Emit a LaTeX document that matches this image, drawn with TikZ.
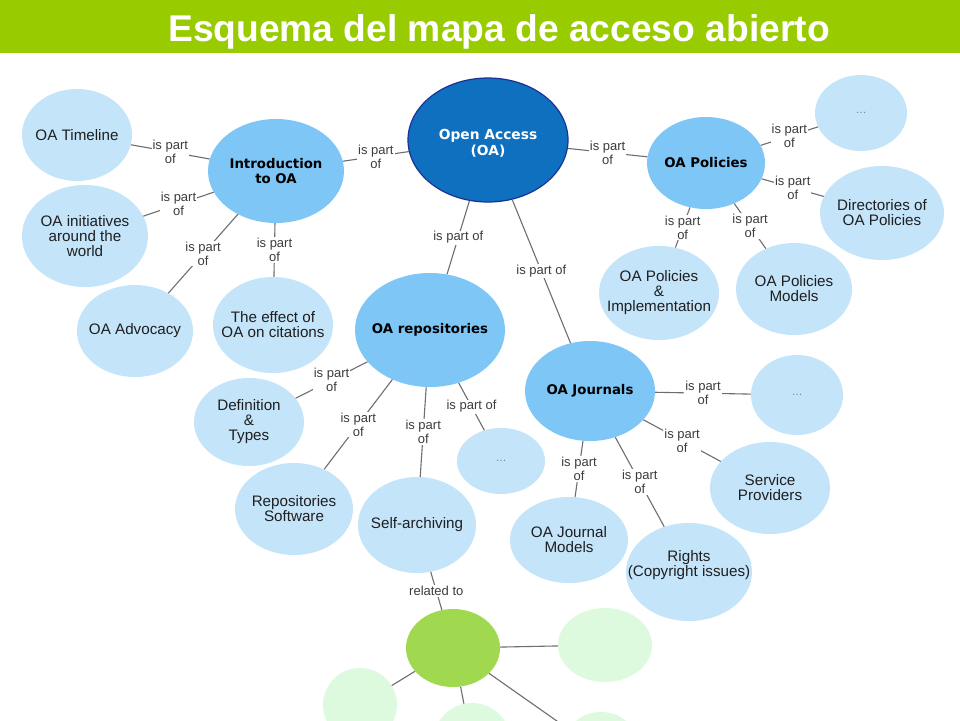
\documentclass[tikz,border=0pt]{standalone}
\usepackage{fontspec}
\setmainfont{Liberation Sans}
\newfontfamily\verd{DejaVu Sans}
\usetikzlibrary{shapes.geometric}
\definecolor{titlegreen}{RGB}{153,204,0}
\definecolor{darkblue}{RGB}{16,112,192}
\definecolor{navy}{RGB}{25,50,150}
\definecolor{midblue}{RGB}{125,198,246}
\definecolor{lightblue}{RGB}{196,228,250}
\definecolor{brightgreen}{RGB}{160,216,80}
\definecolor{palegreen}{RGB}{222,250,222}
\definecolor{edgegray}{RGB}{110,110,110}
\definecolor{lblgray}{RGB}{60,60,60}
\begin{document}
\begin{tikzpicture}[x=1pt,y=-1pt,
  sz/.style 2 args={minimum width=#1pt, minimum height=#2pt},
  ell/.style={ellipse, inner sep=-30pt, align=center, draw=none,
    font=\fontsize{15.2}{15}\selectfont, text=black!88},
  lite/.style={ell, fill=lightblue},
  mid/.style={ell, fill=midblue, font=\verd\bfseries\fontsize{13.3}{15}\selectfont, text=black},
  pale/.style={ell, fill=palegreen},
  dots/.style={lite, font=\fontsize{11}{12}\selectfont, text=black!50},
  edge/.style={draw=edgegray, line width=1.1pt},
  lbl/.style={fill=white, inner sep=1pt, align=center,
    font=\fontsize{13}{14}\selectfont, text=lblgray}
]
\useasboundingbox (0,0) rectangle (960,720);
\fill[white] (0,0) rectangle (960,720);
% title bar
\fill[titlegreen] (0,0) rectangle (960,53);
\node[anchor=base, text=white, inner sep=0pt,
  font=\bfseries\fontsize{37.2}{40}\selectfont] (title) at (499,41) {Esquema del mapa de acceso abierto};

% nodes
\node[ell, fill=darkblue, draw=navy, line width=1.2pt, sz={160}{124},
  label={[align=center, font=\verd\bfseries\fontsize{13.8}{16}\selectfont, text=white, yshift=-3pt]center:Open Access\\(OA)}] (oa) at (488,140) {};
\node[mid, sz={136}{104}] (intro) at (276,171) {Introduction\\to OA};
\node[lite, sz={110}{92}] (timeline) at (77,135) {OA Timeline};
\node[lite, sz={126}{102}] (init) at (85,236) {OA initiatives\\around the\\world};
\node[lite, sz={116}{92}] (advo) at (135,331) {OA Advocacy};
\node[lite, sz={120}{96}] (effect) at (273,325) {The effect of\\OA on citations};

\node[mid, sz={118}{92}] (pol) at (706,163) {OA Policies};
\node[dots, sz={92}{76}] (dotsa) at (861,113) {\dots};
\node[lite, sz={124}{94}] (dirs) at (882,213) {Directories of\\OA Policies};
\node[lite, sz={120}{94}] (impl) at (659,293) {OA Policies\\\&\\Implementation};
\node[lite, sz={116}{92}] (models) at (794,289) {OA Policies\\Models};

\node[mid, sz={150}{114}] (repo) at (430,330) {OA repositories};
\node[lite, sz={110}{88}] (defn) at (249,422) {Definition\\\&\\Types};
\node[lite, sz={118}{92}] (soft) at (294,509) {Repositories\\Software};
\node[lite, sz={118}{96}] (self) at (417,525) {Self-archiving};
\node[dots, sz={88}{66}] (dotsb) at (501,461) {\dots};

\node[mid, sz={130}{100}] (jour) at (590,391) {OA Journals};
\node[dots, sz={92}{80}] (dotsc) at (797,395) {\dots};
\node[lite, sz={120}{92}] (serv) at (770,488) {Service\\Providers};
\node[lite, sz={118}{86}] (jmod) at (569,540) {OA Journal\\Models};
\node[lite, sz={126}{98},
  label={[align=center, font=\fontsize{15.2}{15}\selectfont, text=black!88, yshift=7pt]center:Rights\\(Copyright issues)}] (rights) at (689,572) {};

\node[ell, fill=brightgreen, sz={94}{78}] (green) at (453,648) {};
\node[pale, sz={94}{74}] (pga) at (605,645) {};
\node[pale, sz={74}{74}] (pgb) at (360,705) {};
\node[pale, sz={80}{84}] (pgc) at (472,745) {};
\node[pale, sz={80}{80}] (pgd) at (601,752) {};

% connectors
\draw[edge] (intro) -- node[lbl] {is part\\of} (oa);
\draw[edge] (intro) -- node[lbl] {is part\\of} (timeline);
\draw[edge] (intro) -- node[lbl] {is part\\of} (init);
\draw[edge] (intro) -- node[lbl] {is part\\of} (advo);
\draw[edge] (intro) -- node[lbl] {is part\\of} (effect);

\draw[edge] (oa) -- node[lbl] {is part\\of} (pol);
\draw[edge] (oa) -- node[lbl] {is part of} (repo);
\draw[edge] (oa) -- node[lbl] {is part of} (jour);

\draw[edge] (pol) -- node[lbl] {is part\\of} (dotsa);
\draw[edge] (pol) -- node[lbl] {is part\\of} (dirs);
\draw[edge] (pol) -- node[lbl] {is part\\of} (impl);
\draw[edge] (pol) -- node[lbl] {is part\\of} (models);

\draw[edge] (repo) -- node[lbl] {is part\\of} (defn);
\draw[edge] (repo) -- node[lbl] {is part\\of} (soft);
\draw[edge] (repo) -- node[lbl] {is part\\of} (self);
\draw[edge] (repo) -- node[lbl] {is part of} (dotsb);

\draw[edge] (jour) -- node[lbl] {is part\\of} (dotsc);
\draw[edge] (jour) -- node[lbl] {is part\\of} (serv);
\draw[edge] (jour) -- node[lbl] {is part\\of} (jmod);
\draw[edge] (jour) -- node[lbl] {is part\\of} (rights);

\draw[edge] (self) -- node[lbl] {related to} (green);
\draw[edge] (green) -- (pga);
\draw[edge] (green) -- (pgb);
\draw[edge] (green) -- (pgc);
\draw[edge] (green) -- (pgd);
\end{tikzpicture}
\end{document}
